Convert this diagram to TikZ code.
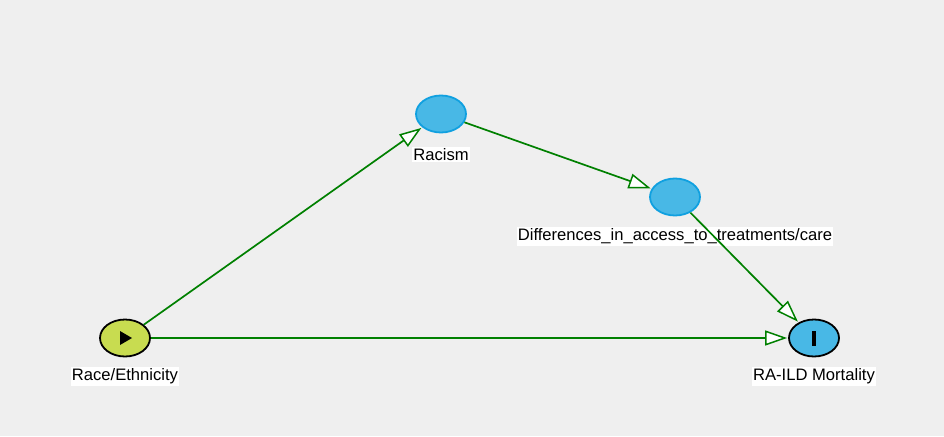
\documentclass[tikz,border=0pt]{standalone}
\usepackage{fontspec}
\setmainfont{Liberation Sans}
\usetikzlibrary{shapes.geometric,arrows.meta}
\definecolor{bg}{HTML}{EFEFEF}
\definecolor{edgegreen}{HTML}{008000}
\definecolor{expfill}{HTML}{C8DC50}
\definecolor{nodeblue}{HTML}{48B8E6}
\definecolor{nodestroke}{HTML}{10A0E0}
\tikzset{
  dagnode/.style={ellipse, minimum width=50pt, minimum height=37pt, inner sep=0pt, line width=1.8pt},
  expnode/.style={dagnode, fill=expfill, draw=black},
  outnode/.style={dagnode, fill=nodeblue, draw=black},
  latnode/.style={dagnode, fill=nodeblue, draw=nodestroke},
  daglabel/.style={fill=white, inner xsep=1pt, inner ysep=1.5pt, font=\fontsize{16.6}{19}\selectfont, text=black},
  dagedge/.style={draw=edgegreen, line width=1.7pt, -{Triangle[fill=white, length=22pt, width=15pt, line width=1.5pt]}, shorten >=1pt}
}
\begin{document}
\begin{tikzpicture}[x=1pt,y=-1pt]
\fill[bg] (0,0) rectangle (944,436);
\useasboundingbox (0,0) rectangle (944,436);
\node[expnode] (race) at (125,338) {};
\node[outnode] (out) at (814,338) {};
\node[latnode] (racism) at (441,114) {};
\node[latnode] (diff) at (675,197) {};
\fill[black] (120,331) -- (132,338) -- (120,345) -- cycle;
\fill[black] (812,331) rectangle (816,346);
\node[daglabel] (lrace) at (125,376.5) {Race/Ethnicity};
\node[daglabel] (lout) at (814,376.5) {RA-ILD Mortality};
\node[daglabel] (lracism) at (441,154.5) {Racism};
\node[daglabel] (ldiff) at (675,236.5) {Differences\_in\_access\_to\_treatments/care};
\draw[dagedge] (race) -- (racism);
\draw[dagedge] (race) -- (out);
\draw[dagedge] (racism) -- (diff);
\draw[dagedge] (diff) -- (out);
\end{tikzpicture}
\end{document}
